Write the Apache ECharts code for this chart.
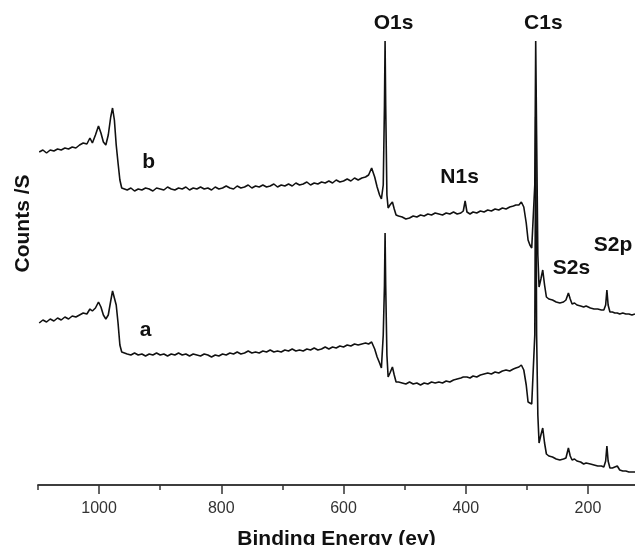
<!DOCTYPE html>
<html style="height: 100%">
<head>
    <meta charset="utf-8">
    <script type="text/javascript" src="https://cdn.jsdelivr.net/npm/echarts@6.0.0/dist/echarts.min.js"></script>
</head>
<body style="height: 100%; margin: 0; background-color: #fff;">
    <div id="main" style="width: 635px; height: 545px;"></div>
<script>
// binding energy (eV), shared by both spectra
var energy = [
    1098, 1092, 1086, 1080, 1074, 1068, 1062, 1056, 1050, 1044, 1038, 1032,
    1026, 1020, 1015, 1011, 1006, 1001, 997, 993, 989, 985, 981, 978, 975, 972, 969, 966, 963, 960,
    954, 948, 942, 936, 930, 924, 918, 912, 906, 900, 894, 888, 882, 876, 870, 864, 858, 852, 846, 840, 834, 828,
    822, 816, 810, 804, 798, 792, 786, 780, 774, 768, 762, 756, 750, 744, 738, 732, 726, 720, 714, 708, 702, 696,
    690, 684, 678, 672, 666, 660, 654, 648, 642, 636, 630, 624, 618, 612, 606, 600, 594, 588, 582, 576, 570, 564,
    559, 554, 549, 545, 541, 538, 535, 533, 532, 531, 529, 527, 524, 520, 517, 514, 510,
    504, 498, 492, 486, 480, 474, 468, 462, 456, 450, 444, 438, 432, 426, 420, 414, 408,
    404, 401, 398, 393, 388, 382, 376, 370, 364, 358, 352, 346, 340, 334, 328, 322, 318,
    313, 309, 305, 301, 298, 295, 292, 289, 287, 285.5, 284, 282, 280, 277, 274, 271, 268, 264,
    258, 252, 246, 240, 236, 232, 229, 226, 222, 218, 215, 212, 207, 203, 200, 196,
    190, 184, 178, 174, 171, 169, 167, 164, 160, 156, 152, 148, 143, 138, 133, 128, 123
];

// spectrum b (upper), arbitrary counts
var countsB = [
    333, 335, 332, 335, 334, 336, 335, 337, 336, 338, 337, 340,
    342, 341, 347, 342, 350, 359, 352, 343, 340, 350, 368, 377, 365, 340, 322, 305, 297, 295,
    295, 297, 294, 296, 295, 297, 296, 294, 297, 296, 295, 298, 296, 295, 297, 296, 298, 295, 297, 296, 298, 296,
    297, 295, 298, 296, 297, 299, 297, 296, 299, 297, 298, 300, 297, 299, 298, 300, 298, 299, 301, 298, 300, 299,
    301, 299, 302, 300, 301, 303, 300, 302, 301, 303, 302, 304, 302, 305, 303, 304, 306, 304, 307, 305, 307, 308,
    310, 317, 308, 298, 290, 286, 300, 380, 444, 380, 290, 277, 280, 283, 276, 270, 269,
    268, 266, 267, 269, 268, 270, 269, 271, 270, 272, 271, 270, 272, 271, 273, 271, 272,
    274, 284, 273, 271, 273, 272, 274, 273, 275, 274, 276, 275, 277, 276, 278, 279, 280,
    280, 283, 278, 262, 245, 240, 237, 237, 300, 444, 350, 230, 198, 206, 215, 200, 188, 186,
    185, 183, 182, 183, 185, 192, 186, 181, 182, 180, 181, 179, 178, 179, 177, 177,
    176, 176, 175, 175, 180, 195, 180, 173, 173, 172, 172, 171, 172, 171, 171, 170, 171
];

// spectrum a (lower)
var countsA = [
    162, 165, 163, 166, 164, 167, 165, 168, 166, 169, 168, 170,
    172, 171, 176, 174, 177, 183, 178, 170, 166, 170, 184, 194, 196, 180, 162, 140, 133, 131,
    131, 130, 132, 130, 131, 129, 131, 130, 132, 130, 131, 129, 131, 130, 132, 130, 131, 129, 131, 130, 129, 131,
    130, 128, 130, 129, 131, 130, 132, 131, 133, 131, 132, 134, 132, 133, 132, 134, 133, 135, 133, 134, 133, 135,
    134, 136, 134, 135, 134, 136, 135, 137, 135, 136, 138, 136, 138, 137, 139, 138, 140, 139, 141, 140, 141, 142,
    141, 143, 136, 128, 122, 117, 150, 200, 252, 200, 130, 108, 112, 118, 110, 103, 103,
    102, 101, 103, 101, 102, 100, 102, 101, 103, 102, 103, 102, 104, 103, 105, 106, 107,
    108, 107, 108, 107, 109, 108, 110, 111, 112, 111, 113, 112, 114, 115, 114, 116, 117,
    118, 120, 115, 100, 83, 82, 81, 82, 150, 368, 150, 70, 42, 50, 57, 42, 31, 29,
    28, 26, 25, 26, 27, 37, 29, 25, 26, 24, 25, 23, 21, 22, 23, 21,
    20, 19, 19, 18, 24, 39, 24, 17, 17, 18, 19, 15, 14, 14, 13, 13, 13
];

// peak / curve annotations
var noteText = ['O1s', 'C1s', 'N1s', 'S2s', 'S2p', 'b', 'a'];
var noteX = [518, 273, 410, 227, 159, 919, 924];
var noteY = [462, 462, 308, 217, 240, 323, 155];

// axis ticks
var majorTicks = [200, 400, 600, 800, 1000];
var minorTicks = [300, 500, 700, 900, 1100];

var FONT = 'Liberation Sans, Arial, sans-serif';

var chartDom = document.getElementById('main');
var myChart = echarts.init(chartDom);

function pairs(ys) {
    return energy.map(function (e, i) { return [e, ys[i]]; });
}

var axisLineStyle = { color: '#333', width: 1.5 };

var option = {
    animation: false,
    grid: { left: 38, right: 0, top: 0, bottom: 60, containLabel: false, outerBoundsMode: 'none' },
    xAxis: [
        {
            type: 'value',
            inverse: true,
            min: 123,
            max: 1100,
            position: 'bottom',
            name: 'Binding Energy (ev)',
            nameLocation: 'middle',
            nameGap: 44,
            nameTextStyle: { fontFamily: FONT, fontSize: 21, fontWeight: 'bold', color: '#111' },
            axisLine: { lineStyle: axisLineStyle },
            axisTick: { show: true, length: 9, customValues: majorTicks, lineStyle: axisLineStyle },
            axisLabel: {
                customValues: majorTicks,
                margin: 16,
                fontFamily: FONT,
                fontSize: 16,
                color: '#333',
                formatter: function (v) { return String(v); }
            },
            splitLine: { show: false }
        },
        {
            type: 'value',
            inverse: true,
            min: 123,
            max: 1100,
            position: 'bottom',
            axisLine: { lineStyle: axisLineStyle },
            axisTick: { show: true, length: 5, customValues: minorTicks, lineStyle: axisLineStyle },
            axisLabel: { show: false },
            splitLine: { show: false }
        }
    ],
    yAxis: {
        type: 'value',
        min: 0,
        max: 485,
        name: 'Counts /S',
        nameLocation: 'middle',
        nameGap: 4,
        nameTextStyle: {
            fontFamily: FONT, fontSize: 21, fontWeight: 'bold', color: '#111',
            padding: [0, 0, 0, 38]
        },
        axisLine: { show: false },
        axisTick: { show: false },
        axisLabel: { show: false },
        splitLine: { show: false }
    },
    series: [
        {
            name: 'b',
            type: 'line',
            data: pairs(countsB),
            showSymbol: false,
            lineStyle: { color: '#111', width: 1.6 }
        },
        {
            name: 'a',
            type: 'line',
            data: pairs(countsA),
            showSymbol: false,
            lineStyle: { color: '#111', width: 1.6 }
        },
        {
            name: 'notes',
            type: 'scatter',
            silent: true,
            symbolSize: 1,
            itemStyle: { color: 'transparent', opacity: 1 },
            data: noteText.map(function (t, i) { return [noteX[i], noteY[i], t]; }),
            label: {
                show: true,
                position: 'inside',
                formatter: function (p) { return p.value[2]; },
                fontFamily: FONT,
                fontSize: 21,
                fontWeight: 'bold',
                color: '#111',
                textBorderWidth: 0
            }
        }
    ]
};

myChart.setOption(option);
</script>
</body>
</html>
